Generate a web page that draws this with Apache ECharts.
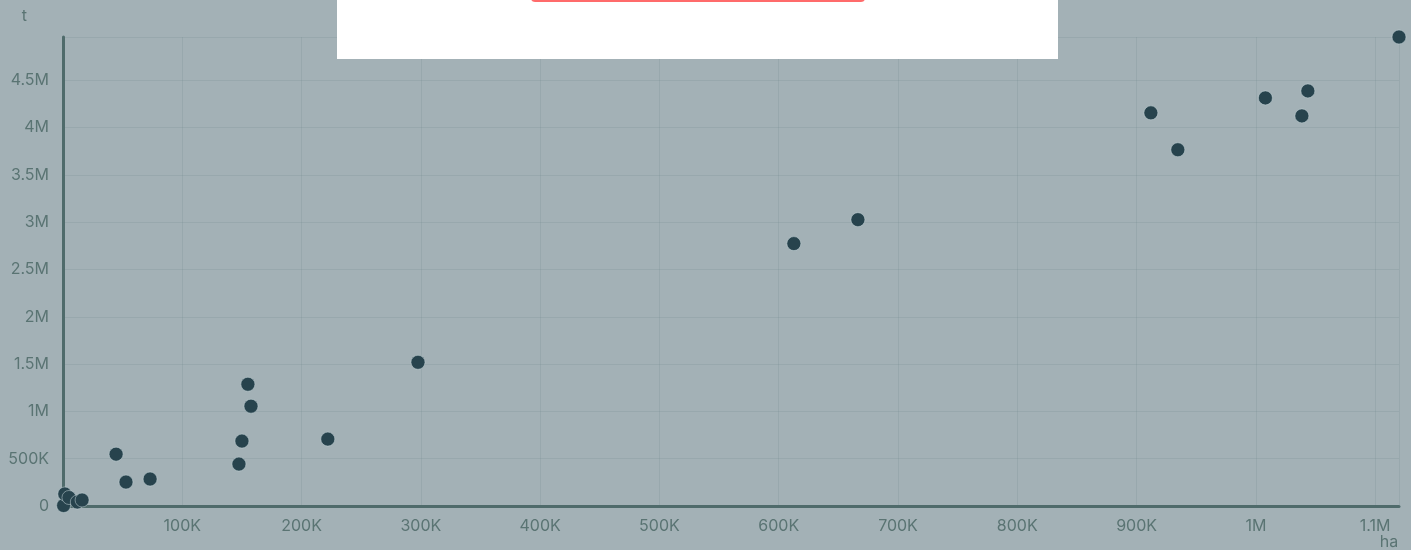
<!DOCTYPE html>
<html>
<head>
<meta charset="utf-8">
<script src="https://cdn.jsdelivr.net/npm/echarts@6/dist/echarts.min.js"></script>
<style>
html,body{margin:0;padding:0;background:#a3b1b6;}
#chart{width:1411px;height:550px;}
</style>
</head>
<body>
<div id="chart"></div>
<script>
// Area harvested (ha) vs production (t)
const areaHa = [500, 1500, 5000, 12000, 16000, 44500, 52800, 73000, 147500, 150000, 155000, 157600, 222000, 297600, 612700, 666400, 912000, 934600, 1008000, 1038600, 1043600, 1120000];
const prodT = [5000, 127000, 90000, 42000, 63000, 548000, 253000, 285000, 443000, 686000, 1287000, 1055000, 707000, 1519000, 2774000, 3027000, 4156000, 3766000, 4314000, 4124000, 4388000, 4958000];
const yTickLabels = {0:'0',500000:'500K',1000000:'1M',1500000:'1.5M',2000000:'2M',2500000:'2.5M',3000000:'3M',3500000:'3.5M',4000000:'4M',4500000:'4.5M'};
const xTickLabels = {100000:'100K',200000:'200K',300000:'300K',400000:'400K',500000:'500K',600000:'600K',700000:'700K',800000:'800K',900000:'900K',1000000:'1M',1100000:'1.1M'};
const xName = 'ha';
const yName = 't';

const points = areaHa.map((x, i) => [x, prodT[i]]);
const font = 'Inter, "Noto Sans", sans-serif';
const labelColor = '#5a7473';
const axisColor = '#4f6b6b';
const gridColor = 'rgba(110,135,140,0.2)';

const chart = echarts.init(document.getElementById('chart'));
chart.setOption({
  backgroundColor: '#a3b1b6',
  animation: false,
  grid: {left: 63, right: 12, top: 37, bottom: 44, containLabel: false},
  graphic: [
    {type: 'rect', left: 337, top: 0, shape: {width: 721, height: 59}, style: {fill: '#ffffff'}, z: 100},
    {type: 'rect', left: 531, top: -10, shape: {width: 334, height: 12, r: 4}, style: {fill: '#ff6b6b'}, z: 101}
  ],
  xAxis: {
    type: 'value',
    min: 0,
    max: 'dataMax',
    interval: 100000,
    name: xName,
    nameLocation: 'end',
    nameGap: -10,
    nameTextStyle: {color: labelColor, fontFamily: font, fontSize: 16, align: 'center', verticalAlign: 'top', padding: [28, 0, 0, 0]},
    axisLine: {show: true, lineStyle: {color: axisColor, width: 3}},
    axisTick: {show: false},
    axisLabel: {color: labelColor, fontFamily: font, fontSize: 16, margin: 12, showMinLabel: false, showMaxLabel: false,
      formatter: v => xTickLabels[v] !== undefined ? xTickLabels[v] : ''},
    splitLine: {show: true, lineStyle: {color: gridColor, width: 1}}
  },
  yAxis: {
    type: 'value',
    min: 0,
    max: 'dataMax',
    interval: 500000,
    name: yName,
    nameLocation: 'end',
    nameGap: 21,
    nameTextStyle: {color: labelColor, fontFamily: font, fontSize: 16, align: 'right', verticalAlign: 'middle', padding: [0, 36, 0, 0]},
    axisLine: {show: true, lineStyle: {color: axisColor, width: 3}},
    axisTick: {show: false},
    axisLabel: {color: labelColor, fontFamily: font, fontSize: 16, margin: 14, showMaxLabel: false,
      formatter: v => yTickLabels[v] !== undefined ? yTickLabels[v] : ''},
    splitLine: {show: true, lineStyle: {color: gridColor, width: 1}}
  },
  series: [{
    type: 'scatter',
    data: points,
    symbol: 'circle',
    symbolSize: 14,
    itemStyle: {color: '#27434d', borderColor: 'rgba(200,215,220,0.5)', borderWidth: 1, opacity: 1}
  }]
});
</script>
</body>
</html>
